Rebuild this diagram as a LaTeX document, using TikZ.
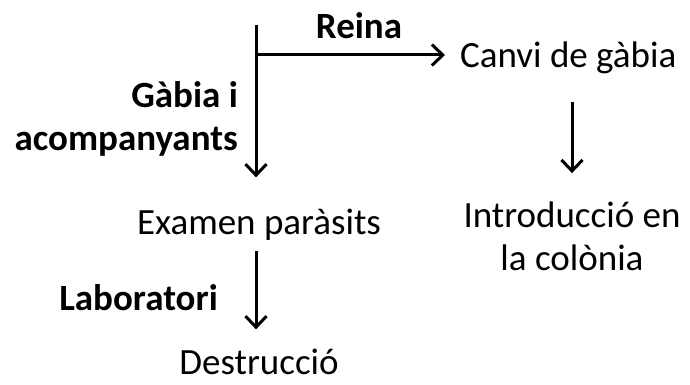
\documentclass[tikz,border=0pt]{standalone}
\usepackage{fontspec}
\setmainfont{Carlito}
\usetikzlibrary{arrows.meta}

\begin{document}
\begin{tikzpicture}[x=1pt, y=-1pt, font=\fontsize{37}{43}\selectfont,
    txt/.style={inner sep=0pt, anchor=base},
    lbl/.style={inner sep=0pt, font=\fontsize{37}{43}\selectfont\bfseries},
    flow/.style={-{Straight Barb[length=11pt, width=21pt]}, line width=3pt}]
    \useasboundingbox (0,0) rectangle (690,385);
    \coordinate (top) at (256, 25);
    \coordinate (branch) at (256, 55);
    \node[txt, anchor=base west] (canvi) at (460, 68) {Canvi de gàbia};
    \node[txt, align=center] (intro) at (572, 270) {Introducció en\\la colònia};
    \node[txt] (examen) at (259, 234) {Examen paràsits};
    \node[txt] (destr) at (259, 374) {Destrucció};
    % labels
    \node[lbl, anchor=base] (reina) at (359, 39) {Reina};
    \node[lbl, anchor=base east, align=right] (gabia) at (238, 150) {Gàbia i\\acompanyants};
    \node[lbl, anchor=base east] (lab) at (218, 310) {Laboratori};
    \draw [line width=3pt] (top) -- (branch);
    \draw [flow, shorten >=15pt] (branch) -- (branch -| canvi.west);
    \draw [flow, shorten >=31pt] (branch) -- (branch |- examen.north);
    \draw [flow, shorten <=27pt, shorten >=28pt] (canvi.south -| intro) -- (intro.north);
    \draw [flow, shorten <=11pt, shorten >=19pt] (examen.south -| top) -- (top |- destr.north);
\end{tikzpicture}
\end{document}
